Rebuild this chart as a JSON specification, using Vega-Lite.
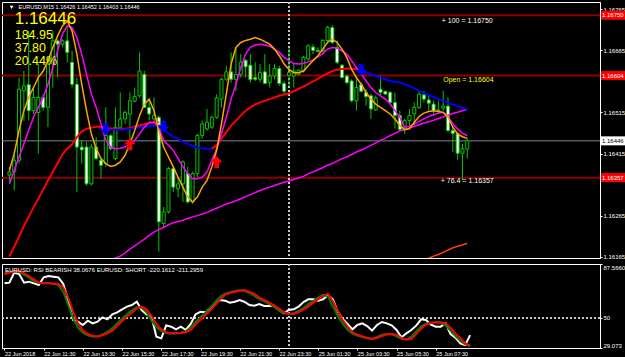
{
"$schema":"https://vega.github.io/schema/vega-lite/v6.json",
"background":"#000000",
"padding":{"left":0,"top":1,"right":0,"bottom":0},
"spacing":2,
"config":{"view":{"stroke":"#ffffff","strokeWidth":1,"fill":"#000000"},"font":"Liberation Sans",
"axis":{"labelColor":"#ffffff","tickColor":"#ffffff","domainColor":"#ffffff","grid":false,"labelFont":"Liberation Sans","labelFontSize":6,"tickSize":2,"labelPadding":1}},
"datasets":{
"bars":[
{"i":0,"o":1.16363,"h":1.16383,"l":1.16342,"c":1.16371,"f":1.16375,"m":1.16342,"s":1.15989,"rsi":74.10,"sg":81.07,"sr":80.37},
{"i":1,"o":1.16371,"h":1.16423,"l":1.16326,"c":1.16399,"f":1.16415,"m":1.16375,"s":1.15997,"rsi":74.57,"sg":82.00,"sr":81.53},
{"i":2,"o":1.16399,"h":1.16599,"l":1.16391,"c":1.16571,"f":1.16471,"m":1.16407,"s":1.16005,"rsi":81.53,"sg":82.69,"sr":82.23},
{"i":3,"o":1.16567,"h":1.16615,"l":1.16495,"c":1.16579,"f":1.16519,"m":1.16439,"s":1.16013,"rsi":80.60,"sg":82.23,"sr":82.92},
{"i":4,"o":1.16582,"h":1.16712,"l":1.16495,"c":1.16519,"f":1.16551,"m":1.16471,"s":1.16021,"rsi":74.57,"sg":80.14,"sr":81.07},
{"i":5,"o":1.16519,"h":1.16575,"l":1.16511,"c":1.16551,"f":1.16575,"m":1.16503,"s":1.16029,"rsi":75.26,"sg":78.05,"sr":79.21},
{"i":6,"o":1.16515,"h":1.16632,"l":1.16415,"c":1.16551,"f":1.16599,"m":1.16527,"s":1.16037,"rsi":74.10,"sg":75.73,"sr":76.89},
{"i":7,"o":1.16551,"h":1.16559,"l":1.16519,"c":1.16527,"f":1.16615,"m":1.16551,"s":1.16045,"rsi":72.94,"sg":74.57,"sr":74.57},
{"i":8,"o":1.16527,"h":1.16648,"l":1.16479,"c":1.16632,"f":1.16640,"m":1.16583,"s":1.16053,"rsi":78.28,"sg":74.10,"sr":74.34},
{"i":9,"o":1.16632,"h":1.16712,"l":1.16575,"c":1.16688,"f":1.16672,"m":1.16623,"s":1.16061,"rsi":79.21,"sg":74.10,"sr":74.10},
{"i":10,"o":1.16688,"h":1.16692,"l":1.16599,"c":1.16680,"f":1.16700,"m":1.16664,"s":1.16069,"rsi":78.75,"sg":73.87,"sr":73.87},
{"i":11,"o":1.16680,"h":1.16692,"l":1.16672,"c":1.16688,"f":1.16724,"m":1.16704,"s":1.16077,"rsi":78.28,"sg":72.71,"sr":73.64},
{"i":12,"o":1.16688,"h":1.16720,"l":1.16636,"c":1.16660,"f":1.16736,"m":1.16724,"s":1.16085,"rsi":73.64,"sg":68.30,"sr":71.32},
{"i":13,"o":1.16636,"h":1.16664,"l":1.16575,"c":1.16583,"f":1.16712,"m":1.16720,"s":1.16094,"rsi":62.50,"sg":59.02,"sr":64.12},
{"i":14,"o":1.16583,"h":1.16599,"l":1.16322,"c":1.16431,"f":1.16656,"m":1.16696,"s":1.16102,"rsi":48.57,"sg":49.73,"sr":54.37},
{"i":15,"o":1.16431,"h":1.16447,"l":1.16391,"c":1.16424,"f":1.16583,"m":1.16656,"s":1.16110,"rsi":47.41,"sg":43.23,"sr":46.25},
{"i":16,"o":1.16431,"h":1.16443,"l":1.16338,"c":1.16342,"f":1.16519,"m":1.16607,"s":1.16118,"rsi":45.09,"sg":39.75,"sr":41.14},
{"i":17,"o":1.16342,"h":1.16439,"l":1.16338,"c":1.16431,"f":1.16463,"m":1.16559,"s":1.16126,"rsi":48.11,"sg":37.90,"sr":38.82},
{"i":18,"o":1.16431,"h":1.16455,"l":1.16399,"c":1.16403,"f":1.16427,"m":1.16527,"s":1.16134,"rsi":46.25,"sg":36.97,"sr":37.66},
{"i":19,"o":1.16399,"h":1.16403,"l":1.16354,"c":1.16387,"f":1.16403,"m":1.16487,"s":1.16142,"rsi":47.41,"sg":37.20,"sr":36.97},
{"i":20,"o":1.16391,"h":1.16527,"l":1.16383,"c":1.16459,"f":1.16391,"m":1.16447,"s":1.16150,"rsi":50.43,"sg":38.59,"sr":37.90},
{"i":21,"o":1.16459,"h":1.16463,"l":1.16423,"c":1.16427,"f":1.16384,"m":1.16431,"s":1.16156,"rsi":49.04,"sg":40.22,"sr":39.29},
{"i":22,"o":1.16403,"h":1.16527,"l":1.16399,"c":1.16479,"f":1.16387,"m":1.16427,"s":1.16162,"rsi":52.52,"sg":42.77,"sr":41.14},
{"i":23,"o":1.16479,"h":1.16563,"l":1.16475,"c":1.16499,"f":1.16395,"m":1.16428,"s":1.16167,"rsi":53.91,"sg":46.25,"sr":44.39},
{"i":24,"o":1.16499,"h":1.16519,"l":1.16487,"c":1.16515,"f":1.16411,"m":1.16431,"s":1.16175,"rsi":56.00,"sg":49.50,"sr":47.88},
{"i":25,"o":1.16511,"h":1.16563,"l":1.16423,"c":1.16543,"f":1.16439,"m":1.16439,"s":1.16184,"rsi":57.86,"sg":52.52,"sr":50.89},
{"i":26,"o":1.16542,"h":1.16575,"l":1.16539,"c":1.16553,"f":1.16471,"m":1.16447,"s":1.16192,"rsi":59.02,"sg":55.30,"sr":53.68},
{"i":27,"o":1.16555,"h":1.16660,"l":1.16551,"c":1.16615,"f":1.16507,"m":1.16463,"s":1.16200,"rsi":61.34,"sg":57.39,"sr":56.70},
{"i":28,"o":1.16607,"h":1.16615,"l":1.16527,"c":1.16527,"f":1.16535,"m":1.16479,"s":1.16208,"rsi":55.53,"sg":57.16,"sr":57.86},
{"i":29,"o":1.16527,"h":1.16543,"l":1.16495,"c":1.16511,"f":1.16547,"m":1.16491,"s":1.16217,"rsi":52.52,"sg":53.91,"sr":56.00},
{"i":30,"o":1.16499,"h":1.16551,"l":1.16491,"c":1.16507,"f":1.16519,"m":1.16491,"s":1.16225,"rsi":50.89,"sg":48.34,"sr":51.36},
{"i":31,"o":1.16503,"h":1.16507,"l":1.16178,"c":1.16250,"f":1.16471,"m":1.16479,"s":1.16231,"rsi":36.97,"sg":43.70,"sr":45.79},
{"i":32,"o":1.16246,"h":1.16286,"l":1.16238,"c":1.16274,"f":1.16431,"m":1.16447,"s":1.16237,"rsi":35.81,"sg":40.91,"sr":42.07},
{"i":33,"o":1.16274,"h":1.16383,"l":1.16270,"c":1.16379,"f":1.16407,"m":1.16435,"s":1.16243,"rsi":44.86,"sg":39.52,"sr":39.98},
{"i":34,"o":1.16379,"h":1.16383,"l":1.16322,"c":1.16334,"f":1.16383,"m":1.16423,"s":1.16248,"rsi":43.93,"sg":39.06,"sr":39.29},
{"i":35,"o":1.16330,"h":1.16358,"l":1.16310,"c":1.16342,"f":1.16358,"m":1.16403,"s":1.16251,"rsi":42.07,"sg":39.29,"sr":39.29},
{"i":36,"o":1.16342,"h":1.16399,"l":1.16298,"c":1.16395,"f":1.16334,"m":1.16383,"s":1.16254,"rsi":43.93,"sg":39.75,"sr":39.52},
{"i":37,"o":1.16367,"h":1.16383,"l":1.16294,"c":1.16298,"f":1.16310,"m":1.16367,"s":1.16258,"rsi":41.61,"sg":40.68,"sr":39.98},
{"i":38,"o":1.16298,"h":1.16371,"l":1.16294,"c":1.16367,"f":1.16298,"m":1.16354,"s":1.16262,"rsi":45.79,"sg":43.47,"sr":41.61},
{"i":39,"o":1.16367,"h":1.16463,"l":1.16358,"c":1.16459,"f":1.16310,"m":1.16354,"s":1.16265,"rsi":52.52,"sg":47.18,"sr":45.56},
{"i":40,"o":1.16459,"h":1.16495,"l":1.16451,"c":1.16487,"f":1.16334,"m":1.16358,"s":1.16269,"rsi":54.37,"sg":50.43,"sr":48.80},
{"i":41,"o":1.16475,"h":1.16523,"l":1.16471,"c":1.16491,"f":1.16350,"m":1.16371,"s":1.16273,"rsi":53.91,"sg":53.68,"sr":51.82},
{"i":42,"o":1.16479,"h":1.16507,"l":1.16475,"c":1.16503,"f":1.16383,"m":1.16399,"s":1.16278,"rsi":56.70,"sg":57.16,"sr":55.30},
{"i":43,"o":1.16503,"h":1.16559,"l":1.16499,"c":1.16550,"f":1.16423,"m":1.16427,"s":1.16283,"rsi":60.64,"sg":61.10,"sr":59.02},
{"i":44,"o":1.16547,"h":1.16599,"l":1.16527,"c":1.16595,"f":1.16487,"m":1.16463,"s":1.16288,"rsi":62.50,"sg":64.82,"sr":62.96},
{"i":45,"o":1.16595,"h":1.16628,"l":1.16591,"c":1.16613,"f":1.16559,"m":1.16503,"s":1.16293,"rsi":62.03,"sg":66.91,"sr":66.21},
{"i":46,"o":1.16613,"h":1.16660,"l":1.16587,"c":1.16595,"f":1.16632,"m":1.16547,"s":1.16297,"rsi":60.64,"sg":67.84,"sr":67.37},
{"i":47,"o":1.16595,"h":1.16672,"l":1.16567,"c":1.16607,"f":1.16672,"m":1.16583,"s":1.16301,"rsi":61.34,"sg":68.76,"sr":68.30},
{"i":48,"o":1.16607,"h":1.16656,"l":1.16599,"c":1.16636,"f":1.16684,"m":1.16623,"s":1.16306,"rsi":62.50,"sg":69.23,"sr":69.00},
{"i":49,"o":1.16641,"h":1.16644,"l":1.16599,"c":1.16625,"f":1.16689,"m":1.16656,"s":1.16311,"rsi":61.10,"sg":68.76,"sr":69.46},
{"i":50,"o":1.16629,"h":1.16656,"l":1.16587,"c":1.16594,"f":1.16692,"m":1.16673,"s":1.16316,"rsi":59.02,"sg":67.37,"sr":68.07},
{"i":51,"o":1.16599,"h":1.16636,"l":1.16591,"c":1.16595,"f":1.16696,"m":1.16678,"s":1.16321,"rsi":58.55,"sg":65.28,"sr":66.68},
{"i":52,"o":1.16595,"h":1.16632,"l":1.16587,"c":1.16611,"f":1.16692,"m":1.16680,"s":1.16326,"rsi":59.71,"sg":63.19,"sr":64.12},
{"i":53,"o":1.16613,"h":1.16656,"l":1.16583,"c":1.16585,"f":1.16686,"m":1.16678,"s":1.16330,"rsi":58.32,"sg":61.57,"sr":62.50},
{"i":54,"o":1.16587,"h":1.16632,"l":1.16575,"c":1.16603,"f":1.16680,"m":1.16675,"s":1.16334,"rsi":58.32,"sg":59.71,"sr":60.87},
{"i":55,"o":1.16603,"h":1.16632,"l":1.16595,"c":1.16621,"f":1.16668,"m":1.16668,"s":1.16338,"rsi":58.55,"sg":57.62,"sr":58.78},
{"i":56,"o":1.16621,"h":1.16628,"l":1.16579,"c":1.16585,"f":1.16652,"m":1.16660,"s":1.16342,"rsi":55.53,"sg":55.30,"sr":56.46},
{"i":57,"o":1.16585,"h":1.16591,"l":1.16559,"c":1.16566,"f":1.16632,"m":1.16648,"s":1.16346,"rsi":53.21,"sg":53.45,"sr":54.14},
{"i":58,"o":1.16604,"h":1.16672,"l":1.16579,"c":1.16611,"f":1.16619,"m":1.16640,"s":1.16349,"rsi":55.53,"sg":52.75,"sr":52.98},
{"i":59,"o":1.16603,"h":1.16632,"l":1.16575,"c":1.16615,"f":1.16611,"m":1.16633,"s":1.16353,"rsi":56.00,"sg":53.21,"sr":52.75},
{"i":60,"o":1.16607,"h":1.16619,"l":1.16606,"c":1.16617,"f":1.16611,"m":1.16632,"s":1.16356,"rsi":57.86,"sg":54.84,"sr":53.91},
{"i":61,"o":1.16615,"h":1.16652,"l":1.16611,"c":1.16648,"f":1.16615,"m":1.16633,"s":1.16360,"rsi":61.10,"sg":56.93,"sr":55.77},
{"i":62,"o":1.16644,"h":1.16680,"l":1.16640,"c":1.16676,"f":1.16628,"m":1.16637,"s":1.16366,"rsi":62.96,"sg":59.48,"sr":58.09},
{"i":63,"o":1.16673,"h":1.16680,"l":1.16656,"c":1.16665,"f":1.16640,"m":1.16642,"s":1.16371,"rsi":62.96,"sg":61.80,"sr":60.64},
{"i":64,"o":1.16665,"h":1.16672,"l":1.16660,"c":1.16662,"f":1.16652,"m":1.16649,"s":1.16376,"rsi":62.03,"sg":64.12,"sr":62.96},
{"i":65,"o":1.16664,"h":1.16692,"l":1.16660,"c":1.16689,"f":1.16668,"m":1.16657,"s":1.16381,"rsi":62.96,"sg":66.21,"sr":65.28},
{"i":66,"o":1.16689,"h":1.16724,"l":1.16684,"c":1.16721,"f":1.16684,"m":1.16668,"s":1.16387,"rsi":65.98,"sg":64.82,"sr":66.91},
{"i":67,"o":1.16720,"h":1.16726,"l":1.16680,"c":1.16684,"f":1.16692,"m":1.16672,"s":1.16391,"rsi":62.96,"sg":58.09,"sr":61.57},
{"i":68,"o":1.16672,"h":1.16689,"l":1.16632,"c":1.16636,"f":1.16684,"m":1.16670,"s":1.16397,"rsi":54.37,"sg":51.59,"sr":54.84},
{"i":69,"o":1.16629,"h":1.16632,"l":1.16599,"c":1.16599,"f":1.16668,"m":1.16664,"s":1.16403,"rsi":49.27,"sg":46.02,"sr":48.57},
{"i":70,"o":1.16603,"h":1.16607,"l":1.16583,"c":1.16587,"f":1.16648,"m":1.16656,"s":1.16407,"rsi":45.79,"sg":41.84,"sr":43.93},
{"i":71,"o":1.16591,"h":1.16595,"l":1.16539,"c":1.16543,"f":1.16619,"m":1.16640,"s":1.16413,"rsi":42.07,"sg":39.06,"sr":39.98},
{"i":72,"o":1.16543,"h":1.16603,"l":1.16519,"c":1.16575,"f":1.16599,"m":1.16623,"s":1.16419,"rsi":45.09,"sg":37.66,"sr":38.36},
{"i":73,"o":1.16582,"h":1.16587,"l":1.16563,"c":1.16566,"f":1.16583,"m":1.16607,"s":1.16424,"rsi":46.25,"sg":36.73,"sr":37.20},
{"i":74,"o":1.16563,"h":1.16571,"l":1.16531,"c":1.16553,"f":1.16563,"m":1.16591,"s":1.16429,"rsi":44.39,"sg":35.81,"sr":36.27},
{"i":75,"o":1.16555,"h":1.16559,"l":1.16499,"c":1.16523,"f":1.16547,"m":1.16575,"s":1.16435,"rsi":41.14,"sg":35.57,"sr":35.34},
{"i":76,"o":1.16521,"h":1.16555,"l":1.16519,"c":1.16550,"f":1.16535,"m":1.16563,"s":1.16441,"rsi":45.09,"sg":36.73,"sr":36.04},
{"i":77,"o":1.16571,"h":1.16603,"l":1.16555,"c":1.16563,"f":1.16527,"m":1.16555,"s":1.16447,"rsi":47.18,"sg":38.13,"sr":37.43},
{"i":78,"o":1.16566,"h":1.16567,"l":1.16558,"c":1.16559,"f":1.16519,"m":1.16547,"s":1.16452,"rsi":46.25,"sg":38.82,"sr":38.59},
{"i":79,"o":1.16563,"h":1.16567,"l":1.16535,"c":1.16539,"f":1.16511,"m":1.16535,"s":1.16459,"rsi":44.86,"sg":38.59,"sr":38.82},
{"i":80,"o":1.16539,"h":1.16563,"l":1.16475,"c":1.16507,"f":1.16499,"m":1.16519,"s":1.16464,"rsi":41.61,"sg":37.20,"sr":38.36},
{"i":81,"o":1.16507,"h":1.16519,"l":1.16471,"c":1.16473,"f":1.16483,"m":1.16503,"s":1.16470,"rsi":36.50,"sg":35.34,"sr":36.04},
{"i":82,"o":1.16475,"h":1.16499,"l":1.16463,"c":1.16495,"f":1.16473,"m":1.16479,"s":1.16473,"rsi":39.29,"sg":35.11,"sr":34.88},
{"i":83,"o":1.16495,"h":1.16523,"l":1.16483,"c":1.16507,"f":1.16475,"m":1.16481,"s":1.16477,"rsi":41.61,"sg":36.97,"sr":35.34},
{"i":84,"o":1.16511,"h":1.16539,"l":1.16483,"c":1.16527,"f":1.16491,"m":1.16487,"s":1.16481,"rsi":44.63,"sg":40.68,"sr":38.82},
{"i":85,"o":1.16527,"h":1.16567,"l":1.16523,"c":1.16559,"f":1.16505,"m":1.16493,"s":1.16485,"rsi":49.04,"sg":43.93,"sr":42.54},
{"i":86,"o":1.16557,"h":1.16567,"l":1.16539,"c":1.16547,"f":1.16513,"m":1.16499,"s":1.16489,"rsi":48.57,"sg":46.02,"sr":45.32,"w":1.16158},
{"i":87,"o":1.16545,"h":1.16559,"l":1.16519,"c":1.16537,"f":1.16517,"m":1.16505,"s":1.16492,"rsi":45.32,"sg":46.71,"sr":46.48,"w":1.16162},
{"i":88,"o":1.16535,"h":1.16543,"l":1.16507,"c":1.16519,"f":1.16519,"m":1.16509,"s":1.16496,"rsi":43.93,"sg":46.95,"sr":46.95,"w":1.16167},
{"i":89,"o":1.16519,"h":1.16543,"l":1.16515,"c":1.16521,"f":1.16517,"m":1.16513,"s":1.16500,"rsi":43.93,"sg":46.71,"sr":46.95,"w":1.16171},
{"i":90,"o":1.16525,"h":1.16567,"l":1.16519,"c":1.16530,"f":1.16515,"m":1.16515,"s":1.16504,"rsi":46.25,"sg":44.63,"sr":46.25,"w":1.16176},
{"i":91,"o":1.16530,"h":1.16551,"l":1.16467,"c":1.16471,"f":1.16503,"m":1.16505,"s":1.16508,"rsi":38.82,"sg":41.14,"sr":43.23,"w":1.16182},
{"i":92,"o":1.16471,"h":1.16483,"l":1.16419,"c":1.16464,"f":1.16479,"m":1.16487,"s":1.16512,"rsi":36.27,"sg":37.43,"sr":39.29,"w":1.16187},
{"i":93,"o":1.16464,"h":1.16467,"l":1.16399,"c":1.16416,"f":1.16463,"m":1.16475,"s":1.16515,"rsi":32.33,"sg":33.95,"sr":35.81,"w":1.16191},
{"i":94,"o":1.16416,"h":1.16439,"l":1.16350,"c":1.16427,"f":1.16456,"m":1.16464,"s":1.16519,"rsi":31.17,"sg":31.63,"sr":32.33,"w":1.16194},
{"i":95,"o":1.16426,"h":1.16452,"l":1.16403,"c":1.16446,"f":1.16452,"m":1.16459,"s":1.16523,"rsi":38.07,"sg":30.47,"sr":30.93,"w":1.16198}
],
"trend":[
{"i":0,"v":1.16166,"seg":"rA"},{"i":1,"v":1.16190,"seg":"rA"},{"i":2,"v":1.16214,"seg":"rA"},{"i":3,"v":1.16240,"seg":"rA"},{"i":4,"v":1.16262,"seg":"rA"},{"i":5,"v":1.16285,"seg":"rA"},{"i":6,"v":1.16306,"seg":"rA"},{"i":7,"v":1.16328,"seg":"rA"},{"i":8,"v":1.16350,"seg":"rA"},{"i":9,"v":1.16371,"seg":"rA"},{"i":10,"v":1.16392,"seg":"rA"},{"i":11,"v":1.16413,"seg":"rA"},{"i":12,"v":1.16427,"seg":"rA"},{"i":13,"v":1.16437,"seg":"rA"},{"i":14,"v":1.16455,"seg":"rA"},{"i":15,"v":1.16469,"seg":"rA"},{"i":16,"v":1.16475,"seg":"rA"},{"i":17,"v":1.16478,"seg":"rA"},{"i":18,"v":1.16480,"seg":"rA"},{"i":19,"v":1.16480,"seg":"rA"},{"i":20,"v":1.16477,"seg":"rA"},{"i":21,"v":1.16476,"seg":"rA"},{"i":22,"v":1.16475,"seg":"rA"},{"i":23,"v":1.16475,"seg":"rA"},{"i":24,"v":1.16475,"seg":"rA"},{"i":25,"v":1.16477,"seg":"rA"},{"i":26,"v":1.16481,"seg":"rA"},{"i":27,"v":1.16483,"seg":"rA"},{"i":28,"v":1.16486,"seg":"rA"},{"i":29,"v":1.16489,"seg":"rA"},{"i":30,"v":1.16491,"seg":"rA"},{"i":31,"v":1.16491,"seg":"rA"},
{"i":19,"v":1.16475,"seg":"bA"},{"i":20,"v":1.16473,"seg":"bA"},{"i":21,"v":1.16473,"seg":"bA"},{"i":22,"v":1.16473,"seg":"bA"},{"i":23,"v":1.16473,"seg":"bA"},{"i":24,"v":1.16474,"seg":"bA"},{"i":25,"v":1.16475,"seg":"bA"},{"i":26,"v":1.16477,"seg":"bA"},{"i":27,"v":1.16478,"seg":"bA"},{"i":28,"v":1.16480,"seg":"bA"},{"i":29,"v":1.16481,"seg":"bA"},{"i":30,"v":1.16483,"seg":"bA"},{"i":31,"v":1.16483,"seg":"bA"},{"i":32,"v":1.16475,"seg":"bA"},{"i":33,"v":1.16464,"seg":"bA"},{"i":34,"v":1.16456,"seg":"bA"},{"i":35,"v":1.16450,"seg":"bA"},{"i":36,"v":1.16444,"seg":"bA"},{"i":37,"v":1.16439,"seg":"bA"},{"i":38,"v":1.16434,"seg":"bA"},{"i":39,"v":1.16430,"seg":"bA"},{"i":40,"v":1.16428,"seg":"bA"},{"i":41,"v":1.16427,"seg":"bA"},{"i":42,"v":1.16427,"seg":"bA"},
{"i":42,"v":1.16427,"seg":"rB"},{"i":43,"v":1.16435,"seg":"rB"},{"i":44,"v":1.16451,"seg":"rB"},{"i":45,"v":1.16467,"seg":"rB"},{"i":46,"v":1.16483,"seg":"rB"},{"i":47,"v":1.16495,"seg":"rB"},{"i":48,"v":1.16507,"seg":"rB"},{"i":49,"v":1.16519,"seg":"rB"},{"i":50,"v":1.16527,"seg":"rB"},{"i":51,"v":1.16534,"seg":"rB"},{"i":52,"v":1.16539,"seg":"rB"},{"i":53,"v":1.16543,"seg":"rB"},{"i":54,"v":1.16547,"seg":"rB"},{"i":55,"v":1.16551,"seg":"rB"},{"i":56,"v":1.16555,"seg":"rB"},{"i":57,"v":1.16558,"seg":"rB"},{"i":58,"v":1.16561,"seg":"rB"},{"i":59,"v":1.16566,"seg":"rB"},{"i":60,"v":1.16572,"seg":"rB"},{"i":61,"v":1.16577,"seg":"rB"},{"i":62,"v":1.16583,"seg":"rB"},{"i":63,"v":1.16590,"seg":"rB"},{"i":64,"v":1.16596,"seg":"rB"},{"i":65,"v":1.16603,"seg":"rB"},{"i":66,"v":1.16609,"seg":"rB"},{"i":67,"v":1.16615,"seg":"rB"},{"i":68,"v":1.16618,"seg":"rB"},{"i":69,"v":1.16620,"seg":"rB"},{"i":70,"v":1.16621,"seg":"rB"},{"i":71,"v":1.16620,"seg":"rB"},{"i":72,"v":1.16619,"seg":"rB"},{"i":73,"v":1.16615,"seg":"rB"},
{"i":73,"v":1.16615,"seg":"bB"},{"i":74,"v":1.16611,"seg":"bB"},{"i":75,"v":1.16607,"seg":"bB"},{"i":76,"v":1.16603,"seg":"bB"},{"i":77,"v":1.16599,"seg":"bB"},{"i":78,"v":1.16595,"seg":"bB"},{"i":79,"v":1.16591,"seg":"bB"},{"i":80,"v":1.16589,"seg":"bB"},{"i":81,"v":1.16587,"seg":"bB"},{"i":82,"v":1.16583,"seg":"bB"},{"i":83,"v":1.16579,"seg":"bB"},{"i":84,"v":1.16573,"seg":"bB"},{"i":85,"v":1.16567,"seg":"bB"},{"i":86,"v":1.16562,"seg":"bB"},{"i":87,"v":1.16557,"seg":"bB"},{"i":88,"v":1.16552,"seg":"bB"},{"i":89,"v":1.16547,"seg":"bB"},{"i":90,"v":1.16542,"seg":"bB"},{"i":91,"v":1.16538,"seg":"bB"},{"i":92,"v":1.16534,"seg":"bB"},{"i":93,"v":1.16530,"seg":"bB"},{"i":94,"v":1.16526,"seg":"bB"},{"i":95,"v":1.16523,"seg":"bB"}
],
"arrows":[
{"i":20,"p":1.16474,"d":"down"},{"i":32,"p":1.16481,"d":"down"},{"i":73,"p":1.16618,"d":"down"},
{"i":25,"p":1.16438,"d":"up"},{"i":43,"p":1.16394,"d":"up"}
],
"levels":[{"p":1.1675},{"p":1.16604},{"p":1.16357}],
"bid":[{"p":1.16446}]
},
"vconcat":[
{
"width":598,"height":256,
"data":{"name":"bars"},
"encoding":{"x":{"field":"i","type":"quantitative","scale":{"domain":[-0.5,121.5],"nice":false,"zero":false},"axis":null}},
"layer":[
{"data":{"name":"levels"},"mark":{"type":"rule","color":"#8b0000","strokeWidth":2},
 "encoding":{"x":null,"y":{"field":"p","type":"quantitative","title":null,"scale":{"domain":[1.161625,1.16782],"nice":false,"zero":false},
 "axis":{"orient":"right","values":[1.16165,1.16215,1.16265,1.16315,1.16415,1.16465,1.16515,1.16565,1.16665,1.16715,1.16765],"format":".5f","title":null}}}},
{"data":{"name":"bid"},"mark":{"type":"rule","color":"#778899","strokeWidth":1},"encoding":{"x":null,"y":{"field":"p","type":"quantitative","title":null}}},
{"mark":{"type":"rule","color":"#c8c8c8","strokeWidth":1,"strokeDash":[2,2]},"encoding":{"x":{"datum":58,"type":"quantitative"}}},
{"mark":{"type":"rule","color":"#00c800","strokeWidth":1},"encoding":{"y":{"field":"l","type":"quantitative","title":null},"y2":{"field":"h"}}},
{"mark":{"type":"bar","width":3,"stroke":"#00c800","strokeWidth":1},"encoding":{"y":{"field":"o","type":"quantitative","title":null},"y2":{"field":"c"},
 "fill":{"condition":{"test":"datum.c < datum.o","value":"#ffffff"},"value":"#000000"}}},
{"mark":{"type":"line","color":"#ff00ff","strokeWidth":1.5,"clip":true},"encoding":{"y":{"field":"s","type":"quantitative","title":null}}},
{"mark":{"type":"line","color":"#ff4500","strokeWidth":1.5,"clip":true},"encoding":{"y":{"field":"w","type":"quantitative","title":null}}},
{"data":{"name":"trend"},"mark":{"type":"line","strokeWidth":2,"clip":true},"encoding":{"y":{"field":"v","type":"quantitative","title":null},
 "color":{"field":"seg","type":"nominal","scale":{"domain":["rA","bA","rB","bB"],"range":["#ff0000","#0000ff","#ff0000","#0000ff"]},"legend":null}}},
{"mark":{"type":"line","color":"#ff00ff","strokeWidth":1.5,"clip":true},"encoding":{"y":{"field":"m","type":"quantitative","title":null}}},
{"mark":{"type":"line","color":"#ffa500","strokeWidth":1.5,"clip":true},"encoding":{"y":{"field":"f","type":"quantitative","title":null}}},
{"data":{"name":"arrows"},"transform":[{"filter":"datum.d == 'down'"}],"mark":{"type":"point","shape":"M-0.4,-1H0.4V0H1L0,1L-1,0H-0.4Z","size":144,"filled":true,"color":"#0000ff","opacity":1},
 "encoding":{"y":{"field":"p","type":"quantitative","title":null}}},
{"data":{"name":"arrows"},"transform":[{"filter":"datum.d == 'up'"}],"mark":{"type":"point","shape":"M-0.4,1H0.4V0H1L0,-1L-1,0H-0.4Z","size":144,"filled":true,"color":"#ff0000","opacity":1},
 "encoding":{"y":{"field":"p","type":"quantitative","title":null}}},
{"data":{"name":"levels"},"mark":{"type":"point","shape":"M0.15,-0.69H4.15V0.69H0.15Z","size":169,"filled":true,"color":"#ff0000","opacity":1},
 "encoding":{"x":{"value":"width"},"y":{"field":"p","type":"quantitative","title":null}}},
{"data":{"name":"levels"},"mark":{"type":"text","color":"#ffffff","fontSize":6,"align":"left","baseline":"middle","dx":2},
 "encoding":{"x":{"value":"width"},"y":{"field":"p","type":"quantitative","title":null},"text":{"field":"p","type":"quantitative","format":".5f"}}},
{"data":{"name":"bid"},"mark":{"type":"point","shape":"M0.15,-0.69H4.15V0.69H0.15Z","size":169,"filled":true,"color":"#ffffff","opacity":1},
 "encoding":{"x":{"value":"width"},"y":{"field":"p","type":"quantitative","title":null}}},
{"data":{"name":"bid"},"mark":{"type":"text","color":"#000000","fontSize":6,"align":"left","baseline":"middle","dx":2},
 "encoding":{"x":{"value":"width"},"y":{"field":"p","type":"quantitative","title":null},"text":{"field":"p","type":"quantitative","format":".5f"}}},
{"transform":[{"filter":"datum.i == 95"}],"mark":{"type":"point","shape":"triangle-down","size":14,"filled":true,"color":"#ffffff","opacity":1},
 "encoding":{"x":{"datum":0.45,"type":"quantitative"},"y":{"datum":1.16769,"type":"quantitative"}}},
{"transform":[{"filter":"datum.i == 95"}],"mark":{"type":"text","color":"#ffffff","fontSize":5.5,"align":"left","baseline":"middle"},
 "encoding":{"x":{"datum":1.9,"type":"quantitative"},"y":{"datum":1.16769,"type":"quantitative"},"text":{"value":"EURUSD,M15  1.16426 1.16452 1.16403 1.16446"}}},
{"transform":[{"filter":"datum.i == 95"}],"mark":{"type":"text","color":"#ffff00","fontSize":17,"align":"left","baseline":"middle"},
 "encoding":{"x":{"datum":1.1,"type":"quantitative"},"y":{"datum":1.1674,"type":"quantitative"},"text":{"value":"1.16446"}}},
{"transform":[{"filter":"datum.i == 95"}],"mark":{"type":"text","color":"#ffff00","fontSize":12.5,"align":"left","baseline":"middle"},
 "encoding":{"x":{"datum":1.1,"type":"quantitative"},"y":{"datum":1.16702,"type":"quantitative"},"text":{"value":"184.95"}}},
{"transform":[{"filter":"datum.i == 95"}],"mark":{"type":"text","color":"#ffff00","fontSize":12.5,"align":"left","baseline":"middle"},
 "encoding":{"x":{"datum":1.1,"type":"quantitative"},"y":{"datum":1.16671,"type":"quantitative"},"text":{"value":"37.80"}}},
{"transform":[{"filter":"datum.i == 95"}],"mark":{"type":"text","color":"#ffff00","fontSize":12.5,"align":"left","baseline":"middle"},
 "encoding":{"x":{"datum":1.1,"type":"quantitative"},"y":{"datum":1.1664,"type":"quantitative"},"text":{"value":"20.44%"}}},
{"transform":[{"filter":"datum.i == 95"}],"mark":{"type":"text","color":"#ffffff","fontSize":7,"align":"left","baseline":"middle"},
 "encoding":{"x":{"datum":89.7,"type":"quantitative"},"y":{"datum":1.16737,"type":"quantitative"},"text":{"value":"+ 100 = 1.16750"}}},
{"transform":[{"filter":"datum.i == 95"}],"mark":{"type":"text","color":"#ffff00","fontSize":7,"align":"left","baseline":"middle"},
 "encoding":{"x":{"datum":90,"type":"quantitative"},"y":{"datum":1.16593,"type":"quantitative"},"text":{"value":"Open = 1.16604"}}},
{"transform":[{"filter":"datum.i == 95"}],"mark":{"type":"text","color":"#ffffff","fontSize":7,"align":"left","baseline":"middle"},
 "encoding":{"x":{"datum":89.5,"type":"quantitative"},"y":{"datum":1.16348,"type":"quantitative"},"text":{"value":"+ 76.4 = 1.16357"}}}
]
},
{
"width":598,"height":84,
"data":{"name":"bars"},
"encoding":{"x":{"field":"i","type":"quantitative","title":null,"scale":{"domain":[-0.5,121.5],"nice":false,"zero":false},
 "axis":{"values":[0,8,16,24,32,40,48,56,64,72,80,88],"labelAlign":"left","labelFlush":false,"title":null,"labelFontSize":5.5,
 "labelExpr":"['22 Jun 2018','22 Jun 11:30','22 Jun 13:30','22 Jun 15:30','22 Jun 17:30','22 Jun 19:30','22 Jun 21:30','22 Jun 23:30','25 Jun 01:30','25 Jun 03:30','25 Jun 05:30','25 Jun 07:30'][round(datum.value/8)]"}}},
"layer":[
{"mark":{"type":"rule","color":"#c8c8c8","strokeWidth":1,"strokeDash":[2,2]},"encoding":{"x":null,"y":{"datum":50,"type":"quantitative","scale":{"domain":[29.073,87.566],"nice":false,"zero":false},
 "axis":{"orient":"right","values":[29.073,50,87.566],"labelFlush":true,"title":null,"labelExpr":"datum.value == 50 ? '50' : (datum.value > 80 ? '87.5660' : '29.073')"}}}},
{"mark":{"type":"rule","color":"#c8c8c8","strokeWidth":1,"strokeDash":[2,2]},"encoding":{"x":{"datum":58,"type":"quantitative"}}},
{"mark":{"type":"line","color":"#ffffff","strokeWidth":2,"clip":true},"encoding":{"y":{"field":"rsi","type":"quantitative","title":null}}},
{"mark":{"type":"line","color":"#008000","strokeWidth":2,"clip":true},"encoding":{"y":{"field":"sg","type":"quantitative","title":null}}},
{"mark":{"type":"line","color":"#ff0000","strokeWidth":2,"clip":true},"encoding":{"y":{"field":"sr","type":"quantitative","title":null}}},
{"transform":[{"filter":"datum.i == 95"}],"mark":{"type":"text","color":"#ffffff","fontSize":6,"align":"left","baseline":"middle"},
 "encoding":{"x":{"datum":0.1,"type":"quantitative"},"y":{"datum":83.04,"type":"quantitative"},"text":{"value":"EURUSD: RSI BEARISH 38.0676 EURUSD: SHORT -220.1612 -211.2959"}}}
]
}
]
}
